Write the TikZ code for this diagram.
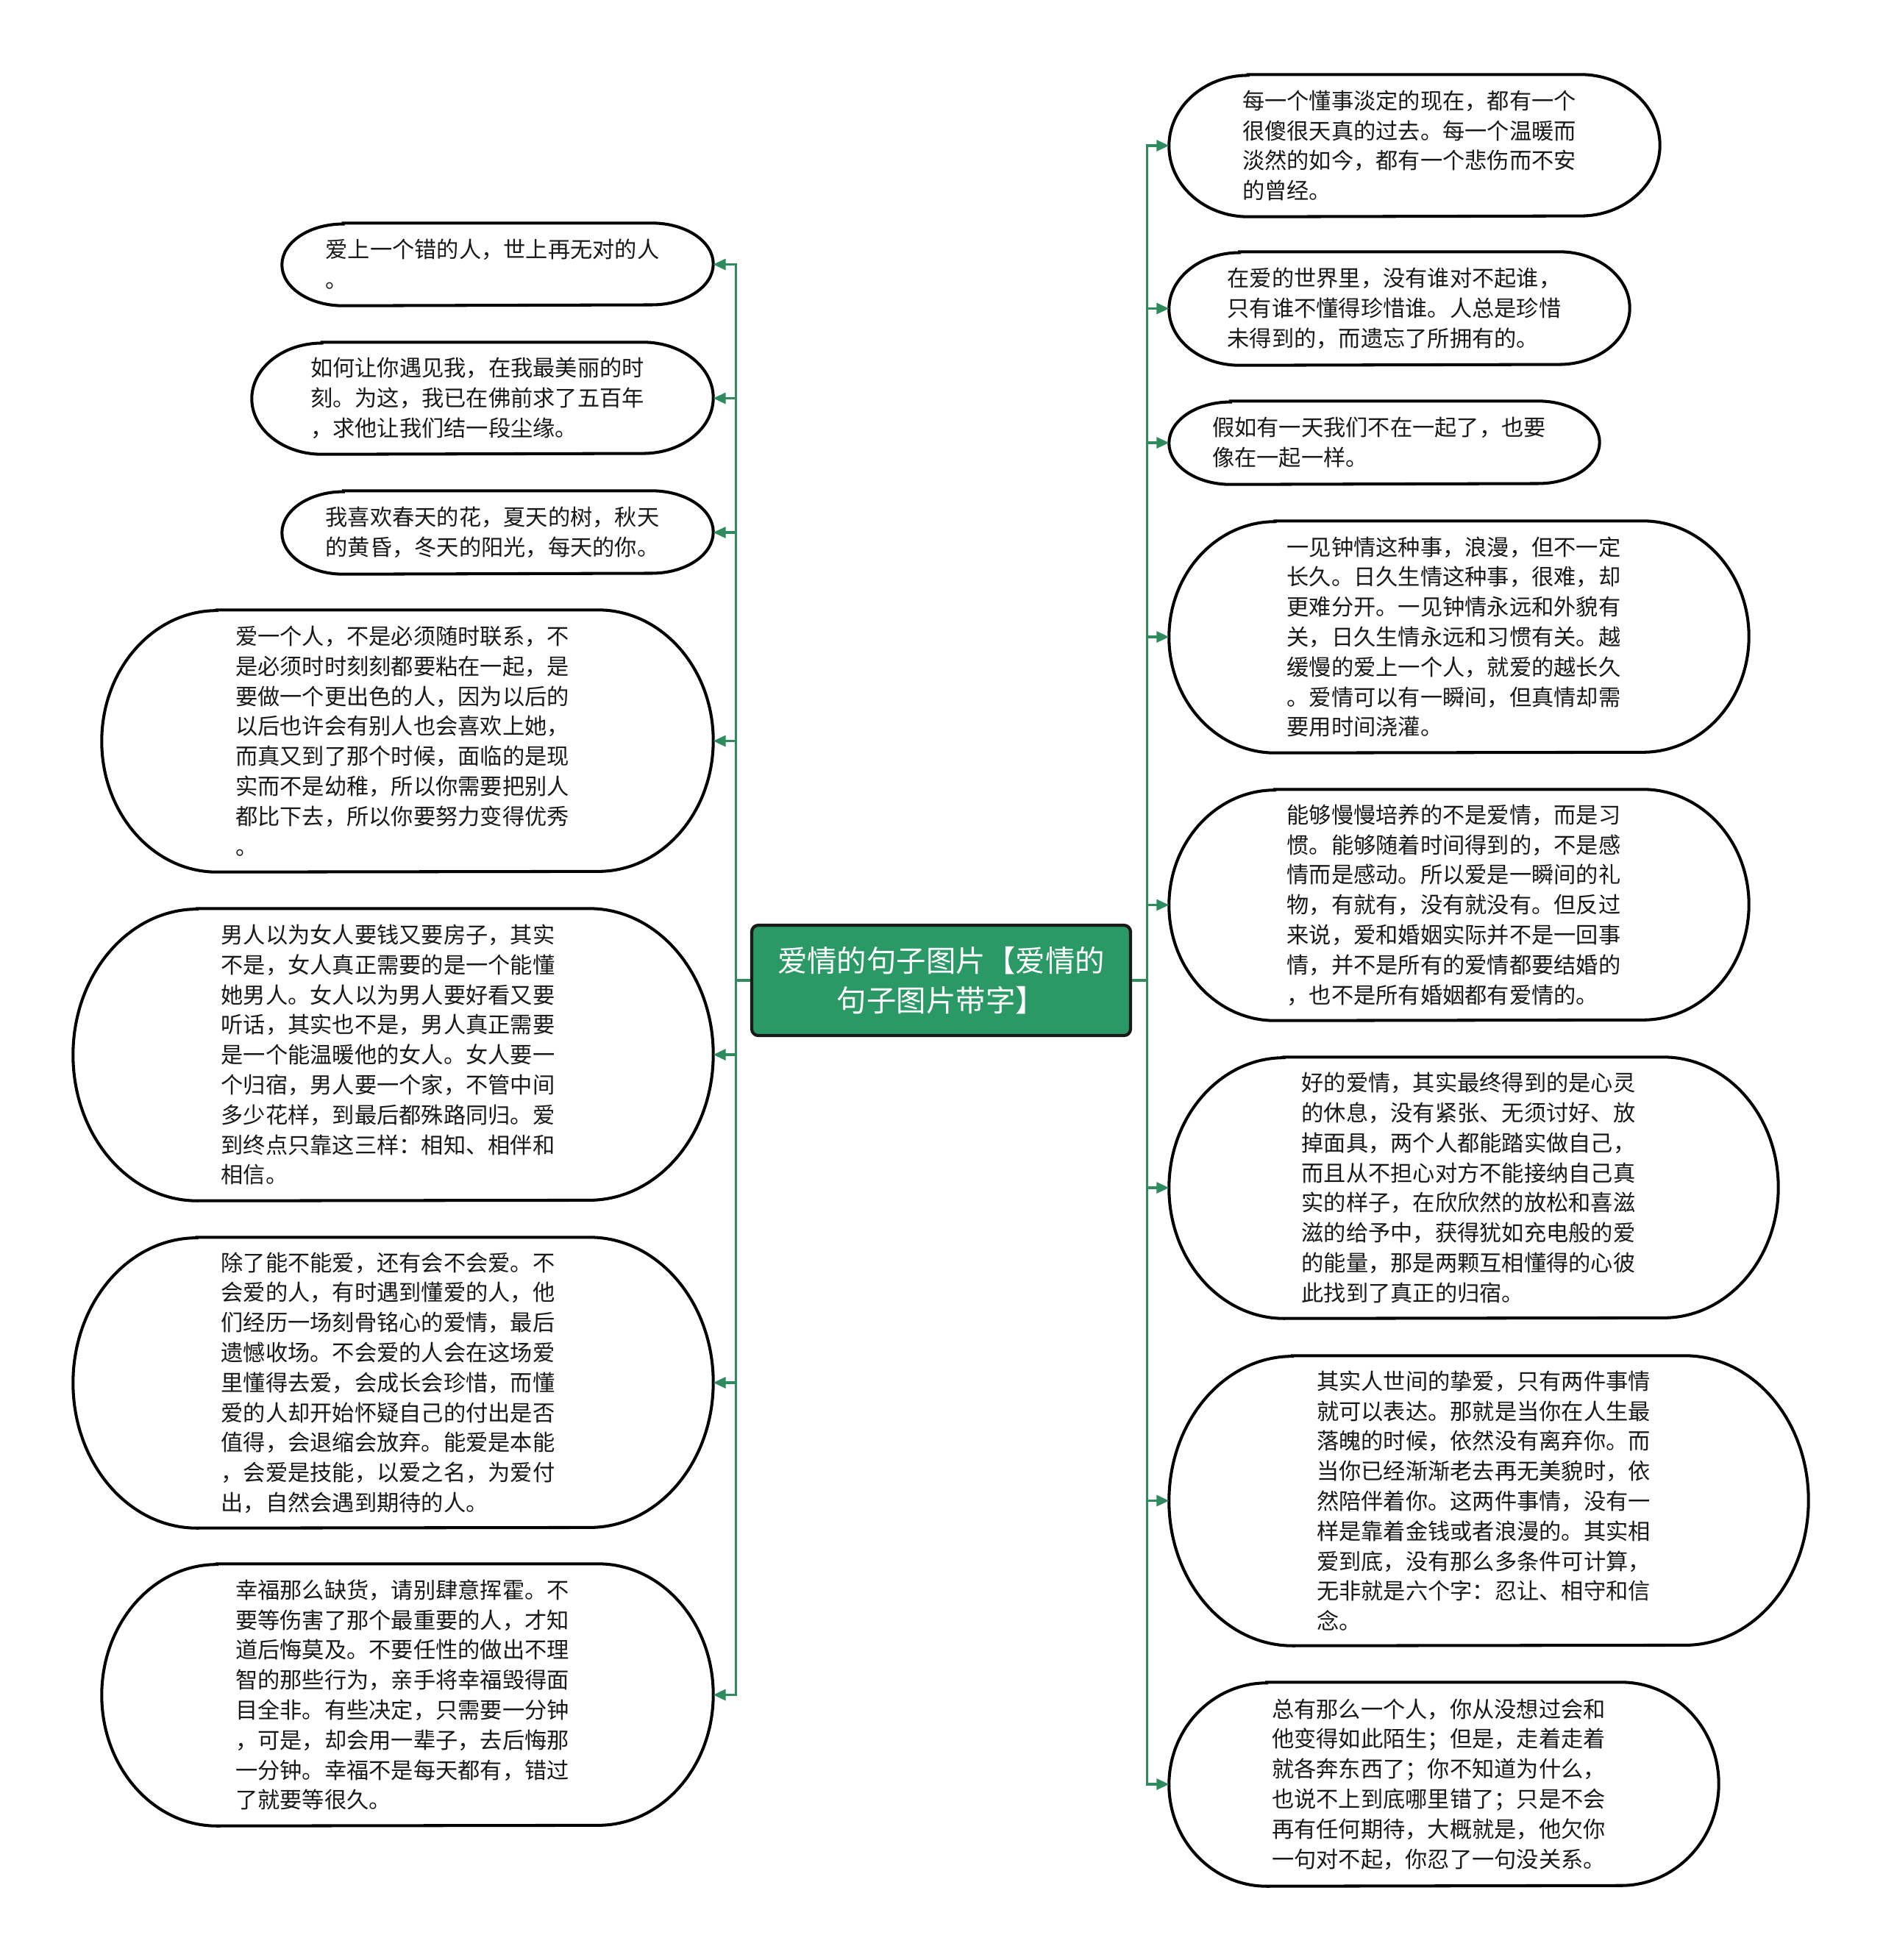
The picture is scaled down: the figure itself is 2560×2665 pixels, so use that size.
\documentclass[tikz,border=0pt]{standalone}
\usepackage{fontspec}
\newfontfamily\cjk{Noto Sans CJK SC}
\usetikzlibrary{arrows.meta}
\definecolor{lnk}{RGB}{46,139,94}
\definecolor{ctr}{RGB}{42,153,102}
\tikzset{
  bx/.style={draw=none,inner sep=0pt},
  bxtext/.style={draw=none,inner sep=0pt,align=left,font=\cjk\fontsize{8.6pt}{11.6pt}\selectfont,text=black!90},
  outl/.style={draw=black,line width=1.15pt},
  conn/.style={draw=lnk,line width=0.9pt,-{Triangle[length=0.17cm,width=0.15cm]}},
  ctrbox/.style={draw=black!90,line width=1.2pt,fill=ctr,rounded corners=0.09cm,inner sep=0pt,align=center,text=white,font=\cjk\fontsize{11.5pt}{15.5pt}\selectfont}
}
\newcommand\bub[6]{%
  \pgfmathsetmacro\rxv{(50+0.3*#5)*0.01}%
  \pgfmathsetmacro\ryv{#5*0.005}%
  \node[bx,minimum width=#4*0.01cm,minimum height=#5*0.01cm] (#1) at (#2,#3) {};
  \draw[outl] ([xshift=\rxv cm]#1.north west) -- ([xshift=-\rxv cm]#1.north east)
    arc[start angle=90,end angle=-90,x radius=\rxv cm,y radius=\ryv cm]
    -- ([xshift=\rxv cm]#1.south west)
    arc[start angle=270,end angle=90,x radius=\rxv cm,y radius=\ryv cm] -- cycle;
  \node[bxtext] (#1-t) at ([xshift=-0.07cm]#1.center) {#6};
}
\begin{document}
\begin{tikzpicture}[x=0.01cm,y=-0.01cm]
\fill[white] (0,0) rectangle (2560,2665);
\useasboundingbox (0,0) rectangle (2560,2665);

\node[ctrbox,minimum width=515*0.01cm,minimum height=150*0.01cm] (C) at (1279.5,1333) {爱情的句子图片【爱情的\\句子图片带字】};

% left
\bub{L1}{676.5}{359.5}{585}{111}{爱上一个错的人，世上再无对的人\\。}
\bub{L2}{656}{541.5}{626}{151}{如何让你遇见我，在我最美丽的时\\刻。为这，我已在佛前求了五百年\\，求他让我们结一段尘缘。}
\bub{L3}{676.5}{724}{585}{112}{我喜欢春天的花，夏天的树，秋天\\的黄昏，冬天的阳光，每天的你。}
\bub{L4}{554}{1007.5}{830}{355}{爱一个人，不是必须随时联系，不\\是必须时时刻刻都要粘在一起，是\\要做一个更出色的人，因为以后的\\以后也许会有别人也会喜欢上她，\\而真又到了那个时候，面临的是现\\实而不是幼稚，所以你需要把别人\\都比下去，所以你要努力变得优秀\\。}
\bub{L5}{534.5}{1434}{869}{396}{男人以为女人要钱又要房子，其实\\不是，女人真正需要的是一个能懂\\她男人。女人以为男人要好看又要\\听话，其实也不是，男人真正需要\\是一个能温暖他的女人。女人要一\\个归宿，男人要一个家，不管中间\\多少花样，到最后都殊路同归。爱\\到终点只靠这三样：相知、相伴和\\相信。}
\bub{L6}{534.5}{1880}{869}{394}{除了能不能爱，还有会不会爱。不\\会爱的人，有时遇到懂爱的人，他\\们经历一场刻骨铭心的爱情，最后\\遗憾收场。不会爱的人会在这场爱\\里懂得去爱，会成长会珍惜，而懂\\爱的人却开始怀疑自己的付出是否\\值得，会退缩会放弃。能爱是本能\\，会爱是技能，以爱之名，为爱付\\出，自然会遇到期待的人。}
\bub{L7}{554}{2304.5}{830}{355}{幸福那么缺货，请别肆意挥霍。不\\要等伤害了那个最重要的人，才知\\道后悔莫及。不要任性的做出不理\\智的那些行为，亲手将幸福毁得面\\目全非。有些决定，只需要一分钟\\，可是，却会用一辈子，去后悔那\\一分钟。幸福不是每天都有，错过\\了就要等很久。}

% right
\bub{R1}{1923}{198}{666}{192}{每一个懂事淡定的现在，都有一个\\很傻很天真的过去。每一个温暖而\\淡然的如今，都有一个悲伤而不安\\的曾经。}
\bub{R2}{1902.5}{419.5}{625}{153}{在爱的世界里，没有谁对不起谁，\\只有谁不懂得珍惜谁。人总是珍惜\\未得到的，而遗忘了所拥有的。}
\bub{R3}{1882}{602}{584}{112}{假如有一天我们不在一起了，也要\\像在一起一样。}
\bub{R4}{1983.5}{866}{787}{314}{一见钟情这种事，浪漫，但不一定\\长久。日久生情这种事，很难，却\\更难分开。一见钟情永远和外貌有\\关，日久生情永远和习惯有关。越\\缓慢的爱上一个人，就爱的越长久\\。爱情可以有一瞬间，但真情却需\\要用时间浇灌。}
\bub{R5}{1983.5}{1230.5}{787}{313}{能够慢慢培养的不是爱情，而是习\\惯。能够随着时间得到的，不是感\\情而是感动。所以爱是一瞬间的礼\\物，有就有，没有就没有。但反过\\来说，爱和婚姻实际并不是一回事\\情，并不是所有的爱情都要结婚的\\，也不是所有婚姻都有爱情的。}
\bub{R6}{2003.5}{1615}{827}{354}{好的爱情，其实最终得到的是心灵\\的休息，没有紧张、无须讨好、放\\掉面具，两个人都能踏实做自己，\\而且从不担心对方不能接纳自己真\\实的样子，在欣欣然的放松和喜滋\\滋的给予中，获得犹如充电般的爱\\的能量，那是两颗互相懂得的心彼\\此找到了真正的归宿。}
\bub{R7}{2024}{2040.5}{868}{393}{其实人世间的挚爱，只有两件事情\\就可以表达。那就是当你在人生最\\落魄的时候，依然没有离弃你。而\\当你已经渐渐老去再无美貌时，依\\然陪伴着你。这两件事情，没有一\\样是靠着金钱或者浪漫的。其实相\\爱到底，没有那么多条件可计算，\\无非就是六个字：忍让、相守和信\\念。}
\bub{R8}{1963}{2426}{746}{276}{总有那么一个人，你从没想过会和\\他变得如此陌生；但是，走着走着\\就各奔东西了；你不知道为什么，\\也说不上到底哪里错了；只是不会\\再有任何期待，大概就是，他欠你\\一句对不起，你忍了一句没关系。}

\foreach \n in {L1,L2,L3,L4,L5,L6,L7}{\draw[conn] (C.west) -- ++(-19,0) |- (\n.east);}
\foreach \n in {R1,R2,R3,R4,R5,R6,R7,R8}{\draw[conn] (C.east) -- ++(20,0) |- (\n.west);}
\end{tikzpicture}
\end{document}
